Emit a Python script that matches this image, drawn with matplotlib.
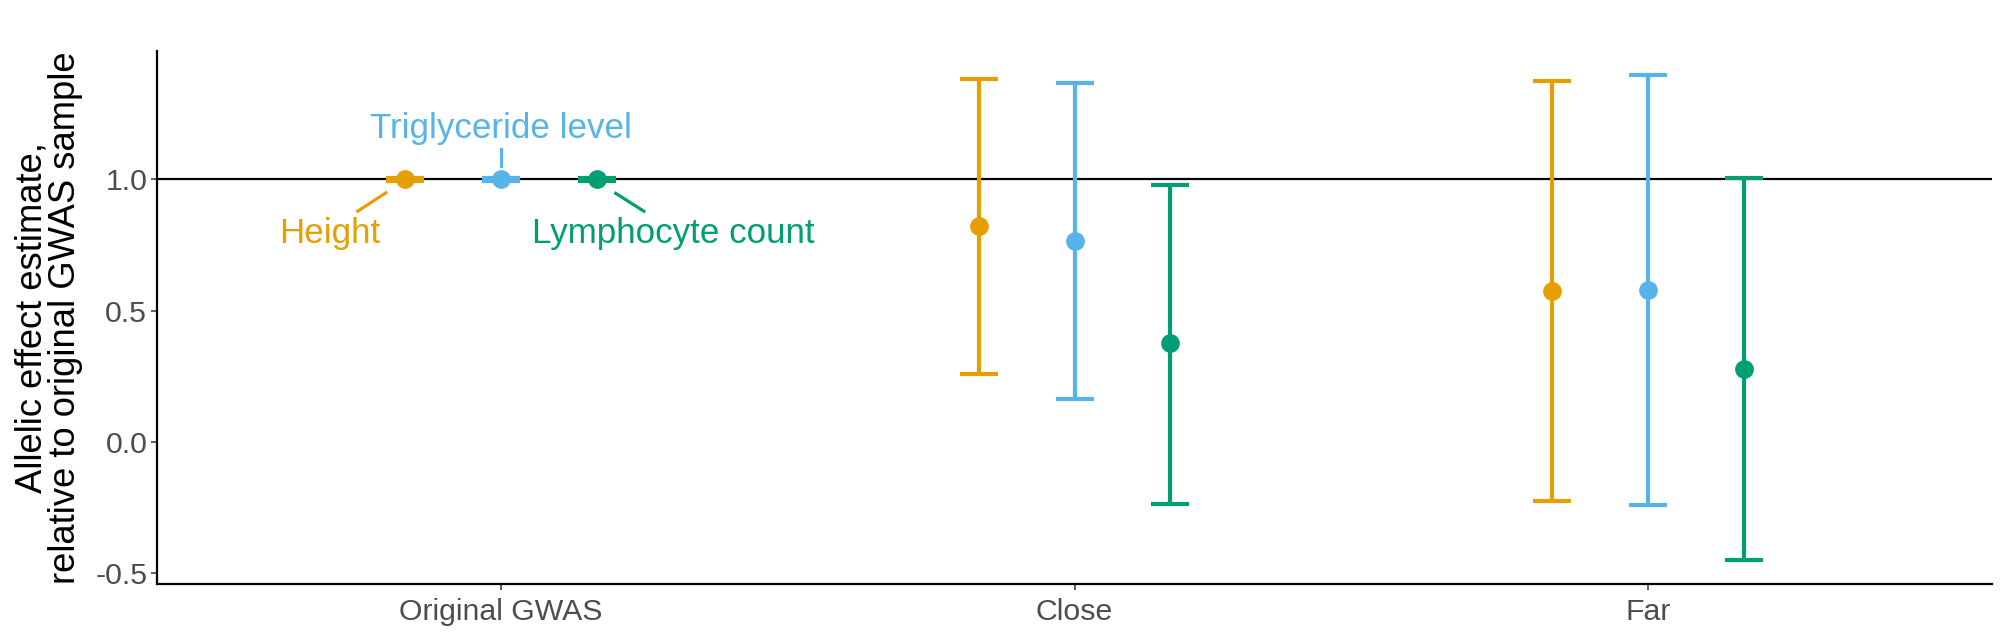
import matplotlib
matplotlib.use("Agg")
import matplotlib.pyplot as plt
import numpy as np

plt.rcParams['font.family'] = ['Liberation Sans', 'DejaVu Sans']

# groups on the x axis and the three traits (dodged inside each group)
groups = ["Original GWAS", "Close", "Far"]
traits = ["Height", "Triglyceride level", "Lymphocyte count"]
colors = ["#E69F00", "#56B4E9", "#009E73"]
dodge = [-1 / 6, 0.0, 1 / 6]

# point estimates (relative to original GWAS)
est_height = [1.0, 0.822, 0.573]
est_trig = [1.0, 0.766, 0.580]
est_lymph = [1.0, 0.375, 0.276]

# confidence interval bounds
lo_height = [0.995, 0.260, -0.226]
lo_trig = [0.995, 0.161, -0.242]
lo_lymph = [0.995, -0.236, -0.451]
hi_height = [1.005, 1.384, 1.376]
hi_trig = [1.005, 1.367, 1.398]
hi_lymph = [1.005, 0.979, 1.005]

estimates = [est_height, est_trig, est_lymph]
lowers = [lo_height, lo_trig, lo_lymph]
uppers = [hi_height, hi_trig, hi_lymph]

# repelled labels next to the "Original GWAS" points: text position, segment ends
label_x = [-0.298, 0.0, 0.300]
label_y = [0.756, 1.157, 0.756]
seg_x0 = [-0.201, 0.0, 0.200]
seg_y0 = [0.949, 1.052, 0.947]
seg_x1 = [-0.250, 0.0, 0.249]
seg_y1 = [0.879, 1.115, 0.879]

fig = plt.figure(figsize=(20, 6.37), dpi=100)
ax = fig.add_axes([0.0785, 0.083, 0.9175, 0.837])

ax.axhline(1.0, color="black", lw=1.6, zorder=1)

x = np.arange(len(groups))
for i in range(len(traits)):
    est = np.array(estimates[i])
    err = np.vstack([est - np.array(lowers[i]), np.array(uppers[i]) - est])
    ax.errorbar(x + dodge[i], est, yerr=err, fmt="none", ecolor=colors[i],
                elinewidth=3.0, capsize=14, capthick=3.0, zorder=2)
    ax.plot(x + dodge[i], est, "o", color=colors[i], ms=13.5, mec="none", zorder=3)

    # label for the original GWAS point
    ax.plot([seg_x0[i], seg_x1[i]], [seg_y0[i], seg_y1[i]], color=colors[i], lw=2.3)
    ax.text(label_x[i], label_y[i], traits[i], color=colors[i], fontsize=25.2,
            ha="center", va="baseline")

ax.set_xlim(-0.6, 2.6)
ax.set_ylim(-0.543, 1.490)
ax.set_xticks(x)
ax.set_xticklabels(groups)
ax.set_yticks([-0.5, 0.0, 0.5, 1.0])
ax.set_yticklabels(["-0.5", "0.0", "0.5", "1.0"])
ax.tick_params(axis="both", labelsize=21.8, labelcolor="#4D4D4D", color="#333333",
               length=4, width=1.1, pad=3)
ax.tick_params(axis="x", pad=6)

ax.set_ylabel("Allelic effect estimate,\nrelative to original GWAS sample",
              fontsize=26.2, linespacing=0.95, labelpad=9)

for s in ["top", "right"]:
    ax.spines[s].set_visible(False)
for s in ["left", "bottom"]:
    ax.spines[s].set_linewidth(1.6)

fig.savefig("out.png", dpi=100)
